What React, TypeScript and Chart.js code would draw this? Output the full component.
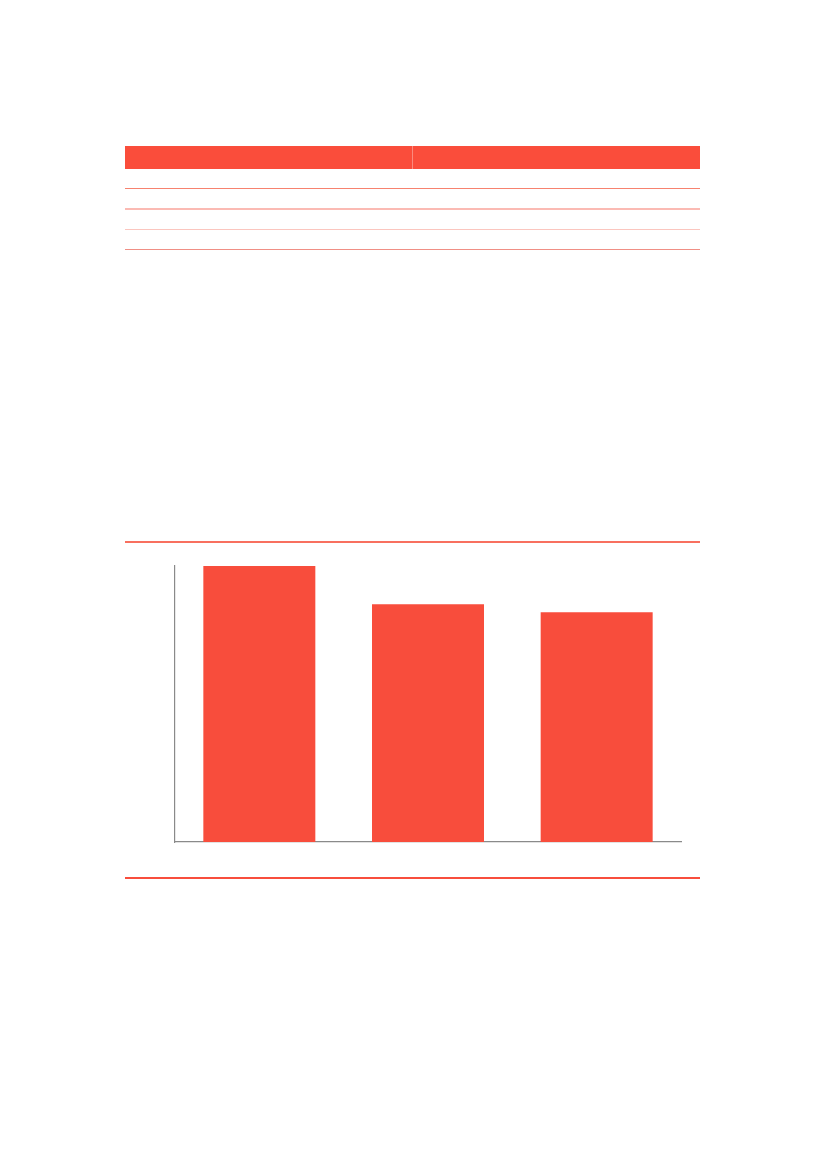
import React, { useEffect, useRef } from "react";
import { Chart, registerables } from "chart.js";

Chart.register(...registerables);

const categories: string[] = ["A", "B", "C"];
const seriesValues: number[] = [100, 86.1, 83.2];
const axisMax = 100;

const RED = "#F84D3C";

function BarChart() {
  const ref = useRef<HTMLCanvasElement | null>(null);
  useEffect(() => {
    if (!ref.current) return;
    const chart = new Chart(ref.current, {
      type: "bar",
      data: {
        labels: categories,
        datasets: [
          {
            data: seriesValues,
            backgroundColor: RED,
            borderWidth: 0,
            categoryPercentage: 1,
            barPercentage: 0.664,
          },
        ],
      },
      options: {
        animation: false,
        responsive: false,
        maintainAspectRatio: false,
        layout: { padding: { left: 50, right: 19, top: 16, bottom: 8 } },
        plugins: { legend: { display: false }, tooltip: { enabled: false } },
        scales: {
          x: {
            grid: { display: false, drawTicks: false },
            ticks: { display: false },
            border: { display: true, color: "#8a8a8a", width: 1.2 },
          },
          y: {
            min: 0,
            max: axisMax,
            grid: { display: false, drawTicks: false },
            ticks: { display: false },
            border: { display: true, color: "#8a8a8a", width: 1.2 },
          },
        },
      },
    });
    return () => chart.destroy();
  }, []);
  return (
    <canvas
      ref={ref}
      width={575}
      height={300}
      style={{ position: "absolute", left: 125, top: 550, width: 575, height: 300 }}
    />
  );
}

export default function App() {
  const line = (top: number, color: string, h = 1) => (
    <div style={{ position: "absolute", left: 125, top, width: 575, height: h, background: color }} />
  );
  return (
    <div style={{ position: "absolute", left: 0, top: 0, width: 827, height: 1169, background: "#fff" }}>
      {/* table header */}
      <div style={{ position: "absolute", left: 125, top: 146, width: 575, height: 23, background: "#FA4D3B" }} />
      <div style={{ position: "absolute", left: 412, top: 146, width: 1, height: 23, background: "#FB8A7E" }} />
      {line(188, "#F7826F")}
      {line(208, "#FBBAB3", 2)}
      {line(229, "#FBC6BF", 1)}
      {line(249, "#F08F85")}
      {/* chart frame lines */}
      {line(541, "#F8705F", 2)}
      {line(877, RED, 2)}
      <BarChart />
    </div>
  );
}
